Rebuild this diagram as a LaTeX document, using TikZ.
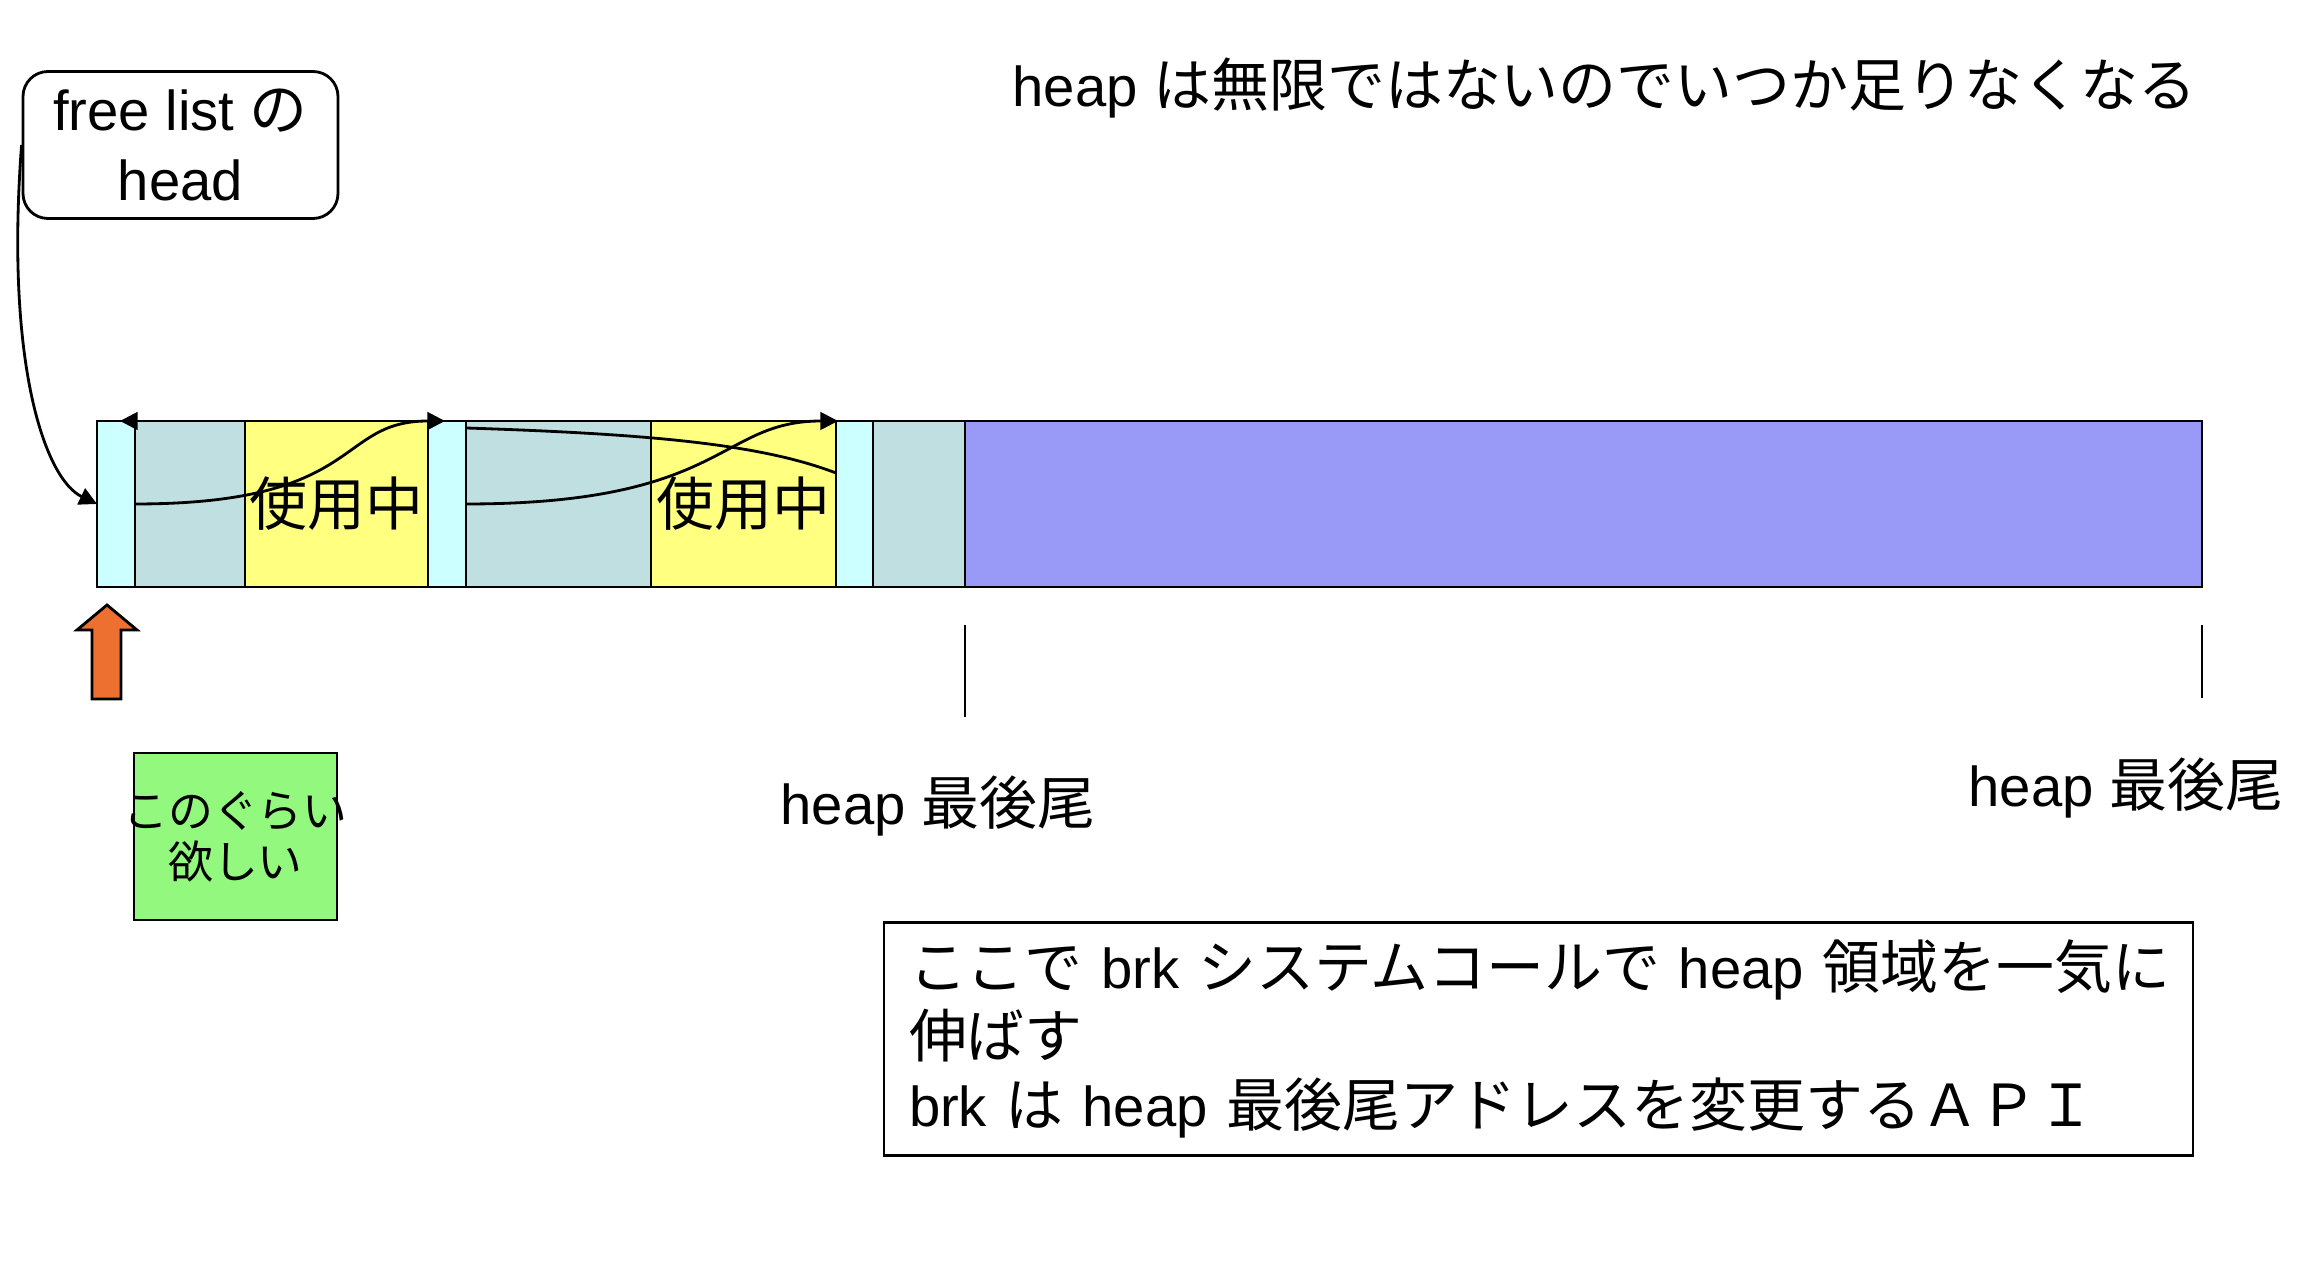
\documentclass[tikz,border=0pt]{standalone}
\usepackage{fontspec}
\setmainfont{Liberation Sans}
\newfontfamily\jp[Scale=1.03]{Noto Sans CJK JP}
\usepackage{tikz}
\usetikzlibrary{arrows.meta, positioning}

\definecolor{hdrcyan}{HTML}{CCFFFF}
\definecolor{freegray}{HTML}{C0DFE0}
\definecolor{usedyellow}{HTML}{FFFF80}
\definecolor{heapblue}{HTML}{9999F8}
\definecolor{markorange}{HTML}{EE7030}
\definecolor{wantgreen}{HTML}{92F87E}

\tikzset{
  cell/.style={draw, line width=0.8pt, inner sep=0pt, outer sep=0pt, minimum height=1.66cm},
  hdr/.style={cell, fill=hdrcyan, minimum width=0.38cm},
  freecell/.style={cell, fill=freegray},
  usedcell/.style={cell, fill=usedyellow, font=\jp\fontsize{16}{19}\selectfont},
  link/.style={line width=0.8pt, -{Triangle[length=5pt, width=5pt]}},
  lbl/.style={inner sep=0pt, font=\fontsize{16}{19.6}\selectfont},
}

\begin{document}
\begin{tikzpicture}
  \useasboundingbox (0,0) rectangle (23,12.64);
  % heap cells, left to right: header, free part, used part ...
  \node[hdr, anchor=west] (h1) at (0.97,7.60) {};
  \node[freecell, minimum width=1.10cm, right=0pt of h1] (f1) {};
  \node[usedcell, minimum width=1.83cm, right=0pt of f1] (u1) {使用中};
  \node[hdr, right=0pt of u1] (h2) {};
  \node[freecell, minimum width=1.85cm, right=0pt of h2] (f2) {};
  \node[usedcell, minimum width=1.85cm, right=0pt of f2] (u2) {使用中};
  \node[hdr, minimum width=0.37cm, right=0pt of u2] (h3) {};
  \node[freecell, minimum width=0.92cm, right=0pt of h3] (f3) {};
  \node[cell, fill=heapblue, minimum width=12.37cm, right=0pt of f3] (rest) {};
  % free list links
  \draw[link] (h2.north west) -- ([xshift=-1.5mm]h1.north east);
  \draw[link] (h1.east) .. controls +(2.3,0) and +(-1.1,0) .. ([xshift=1.7mm]h2.north west);
  \draw[link] (h2.east) .. controls +(2.6,0) and +(-1.2,0) .. ([xshift=0.2mm]h3.north west);
  \draw[line width=0.8pt] ([yshift=-0.7mm]h2.north east) .. controls +(1.84,-0.06) and +(-0.76,0.29) .. ([yshift=3.1mm]h3.west);
  % head of the list
  \node[draw, rounded corners=0.25cm, line width=0.8pt, minimum width=3.15cm, minimum height=1.47cm, align=center, inner sep=0pt, font=\fontsize{16}{19.9}\selectfont] (head) at (1.805,11.19) {free list {\jp の}\\head};
  \draw[link] (head.west) .. controls (0.05,9.0) and (0.45,7.85) .. (h1.west);
  % requested size
  \draw[fill=markorange, line width=0.8pt] (1.07,6.59) -- (1.37,6.34) -- (1.21,6.34) -- (1.21,5.65) -- (0.92,5.65) -- (0.92,6.34) -- (0.77,6.34) -- cycle;
  \node[draw, fill=wantgreen, line width=0.8pt, minimum width=2.03cm, minimum height=1.67cm, inner sep=0pt, text width=2.03cm, align=center, font=\jp\fontsize{12.4}{14.4}\selectfont] (want) at (2.355,4.275) {\makebox[2.03cm]{このぐらい}\\欲しい};
  % end of heap
  \draw[line width=0.8pt] ([yshift=-3.8mm]rest.south west) -- ++(0,-0.92);
  \draw[line width=0.8pt] ([yshift=-3.8mm]rest.south east) -- ++(0,-0.73);
  \node[lbl, anchor=west] (endA) at (7.80,4.58) {heap {\jp 最後尾}};
  \node[lbl, anchor=west] (endB) at (19.68,4.76) {heap {\jp 最後尾}};
  % notes
  \node[lbl, anchor=west] (title) at (10.12,11.76) {heap {\jp は無限ではないのでいつか足りなくなる}};
  \node[draw, line width=0.8pt, minimum width=13.09cm, minimum height=2.33cm, text width=12.59cm, align=left, inner xsep=0.25cm, inner ysep=0.08cm, font=\fontsize{16}{19.6}\selectfont] (note) at (15.385,2.25) {\mbox{{\jp ここで} brk {\jp システムコールで} heap {\jp 領域を一気に}}\\{\jp 伸ばす}\\brk {\jp は} heap {\jp 最後尾アドレスを変更するＡＰＩ}};
\end{tikzpicture}
\end{document}
